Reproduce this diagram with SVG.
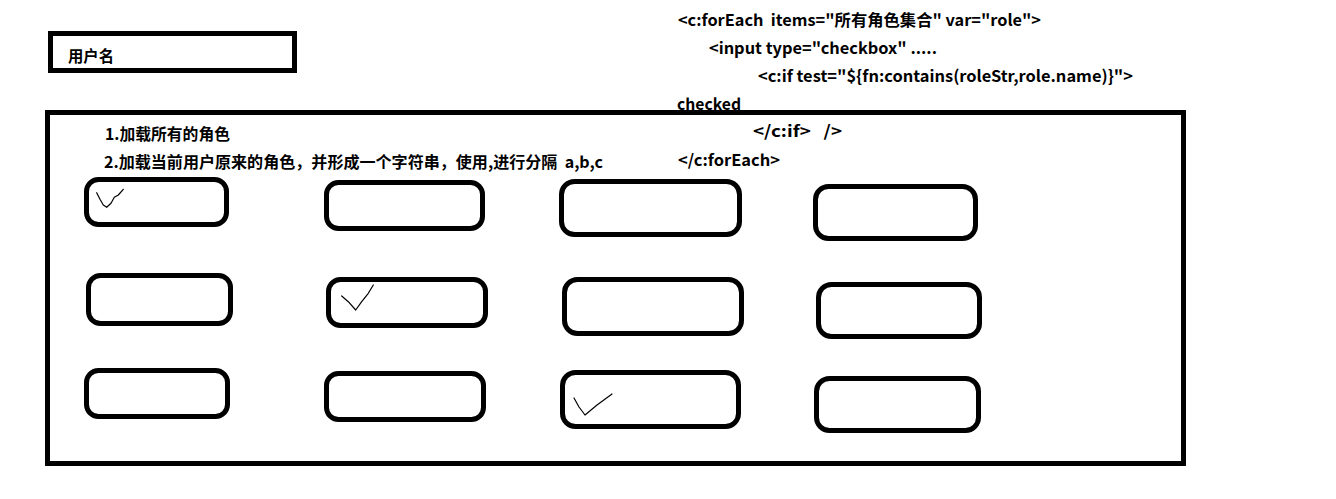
<svg xmlns="http://www.w3.org/2000/svg" width="1336" height="499" viewBox="0 0 1336 499">
<style>
.frame{fill:none;stroke:#000;stroke-width:5}
.cb{fill:none;stroke:#000;stroke-width:5}
.tick{fill:none;stroke:#000;stroke-width:1.2;stroke-linejoin:round;stroke-linecap:round}
.t{font-family:"Noto Sans CJK SC","Liberation Sans",sans-serif;font-weight:bold;font-size:16px;fill:#000}
</style>
<rect width="1336" height="499" fill="#fff"/>
<g id="username">
<rect class="frame" x="50.5" y="33.5" width="244" height="37"/>
<text class="t" x="68" y="62" textLength="46" lengthAdjust="spacingAndGlyphs">用户名</text>
</g>
<g id="code">
<text class="t" x="678" y="26" textLength="363" lengthAdjust="spacingAndGlyphs" xml:space="preserve">&lt;c:forEach  items="所有角色集合" var="role"&gt;</text>
<text class="t" x="709" y="54" textLength="228" lengthAdjust="spacingAndGlyphs">&lt;input type="checkbox" .....</text>
<text class="t" x="758" y="82" textLength="375" lengthAdjust="spacingAndGlyphs">&lt;c:if test="${fn:contains(roleStr,role.name)}"&gt;</text>
<text class="t" x="677" y="110" textLength="64" lengthAdjust="spacingAndGlyphs">checked</text>
<text class="t" x="753" y="137" textLength="89" lengthAdjust="spacingAndGlyphs" xml:space="preserve">&lt;/c:if&gt;   /&gt;</text>
<text class="t" x="678" y="166" textLength="102" lengthAdjust="spacingAndGlyphs">&lt;/c:forEach&gt;</text>
</g>
<g id="panel">
<rect class="frame" x="47.5" y="112.5" width="1136" height="351"/>
<text class="t" x="105" y="140" textLength="125" lengthAdjust="spacingAndGlyphs">1.加载所有的角色</text>
<text class="t" x="104" y="168" textLength="499" lengthAdjust="spacingAndGlyphs" xml:space="preserve">2.加载当前用户原来的角色，并形成一个字符串，使用,进行分隔  a,b,c</text>
</g>
<g id="role-r1c1"><rect class="cb" x="86.5" y="179.5" width="140" height="45" rx="12"/>
<polyline class="tick" points="96.7,192.7 100,199.3 103.3,205 106.7,207.3 111,203.3 114.3,197.3 118.3,195 123.3,189.3"/></g>
<g id="role-r1c2"><rect class="cb" x="326.5" y="182.5" width="156" height="46" rx="12"/></g>
<g id="role-r1c3"><rect class="cb" x="561.5" y="181.5" width="178" height="53" rx="13"/></g>
<g id="role-r1c4"><rect class="cb" x="815.5" y="186.5" width="160" height="52" rx="13"/></g>
<g id="role-r2c1"><rect class="cb" x="88.5" y="275.5" width="142" height="48" rx="12"/></g>
<g id="role-r2c2"><rect class="cb" x="328.5" y="279.5" width="157" height="46" rx="12"/>
<polyline class="tick" points="341.7,296 348.3,301.7 355.7,310 361.7,301.7 368.3,293.3 373.3,285"/></g>
<g id="role-r2c3"><rect class="cb" x="564.5" y="279.5" width="177" height="54" rx="13"/></g>
<g id="role-r2c4"><rect class="cb" x="818.5" y="284.5" width="161" height="52" rx="13"/></g>
<g id="role-r3c1"><rect class="cb" x="86.5" y="370.5" width="141" height="46" rx="12"/></g>
<g id="role-r3c2"><rect class="cb" x="326.5" y="373.5" width="157" height="46" rx="12"/></g>
<g id="role-r3c3"><rect class="cb" x="562.5" y="372.5" width="176" height="54" rx="13"/>
<polyline class="tick" points="574,398 579,407 585,415 597,405 612,394"/></g>
<g id="role-r3c4"><rect class="cb" x="816.5" y="378.5" width="162" height="52" rx="13"/></g>
<g id="connectors"></g>
</svg>
